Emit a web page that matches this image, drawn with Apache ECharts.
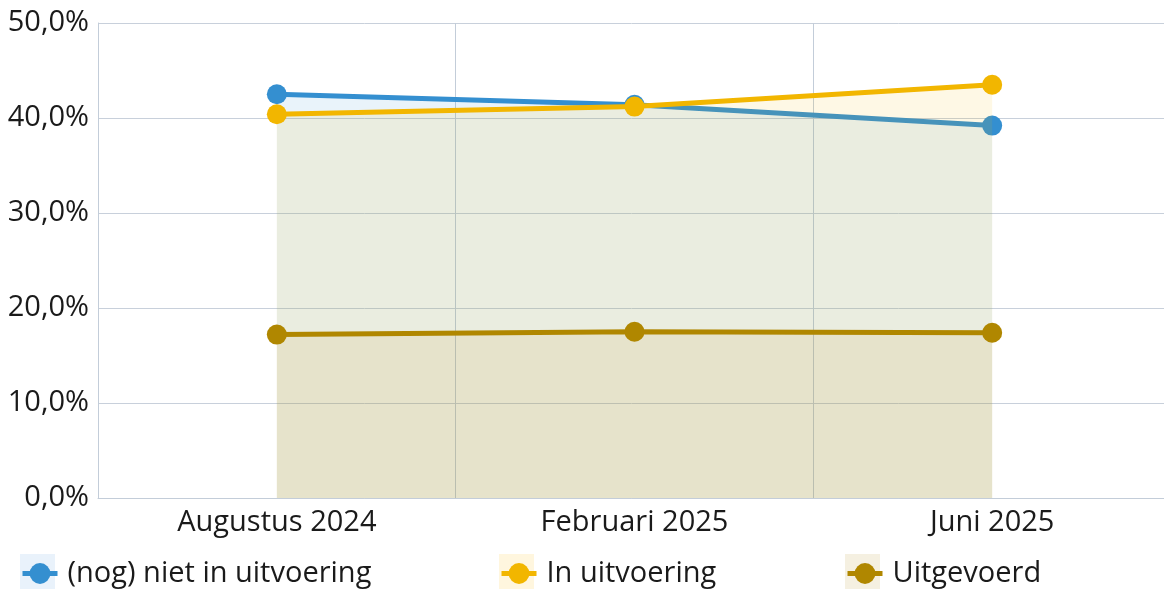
<!DOCTYPE html>
<html>
<head>
<meta charset="utf-8">
<script src="https://cdn.jsdelivr.net/npm/echarts@6/dist/echarts.min.js"></script>
<style>
  html, body { margin: 0; padding: 0; background: #fff; }
  #chart { width: 1164px; height: 589px; }
</style>
</head>
<body>
<div id="chart"></div>
<script>
// data
var categories = ['Augustus 2024', 'Februari 2025', 'Juni 2025'];
var nietInUitvoering = [42.5, 41.4, 39.2];
var inUitvoering = [40.4, 41.2, 43.5];
var uitgevoerd = [17.2, 17.5, 17.4];
var seriesNames = ['(nog) niet in uitvoering', 'In uitvoering', 'Uitgevoerd'];
var yTicks = [0, 10, 20, 30, 40, 50];

var lineColors = ['#348fd0', '#f2b600', '#b08700'];
var areaColors = ['rgba(52,143,208,0.11)', 'rgba(245,184,0,0.10)', 'rgba(200,140,20,0.10)'];
var legendBg = ['#e9f2fb', '#fff6de', '#f5f0e1'];
var legendLeft = [20, 499, 845];
var fontFam = '"Open Sans", "Noto Sans", sans-serif';

function pct(v) {
  return v.toFixed(1).replace('.', ',') + '%';
}

function makeSeries(name, data, i) {
  return {
    name: name,
    type: 'line',
    data: data,
    symbol: 'circle',
    symbolSize: 20,
    lineStyle: { width: 5, color: lineColors[i] },
    itemStyle: { color: lineColors[i] },
    areaStyle: { color: areaColors[i], opacity: 1, origin: 'start' },
    z: 2 + i
  };
}

function makeLegend(i) {
  return {
    data: [seriesNames[i]],
    left: legendLeft[i],
    top: 559,
    padding: 0,
    itemWidth: 35,
    itemHeight: 26,
    lineStyle: { width: 5 },
    textStyle: { fontSize: 29, color: '#1a1a1a', fontFamily: fontFam, padding: [0, 0, 0, 5] }
  };
}

var myChart = echarts.init(document.getElementById('chart'));

var option = {
  animation: false,
  textStyle: { fontFamily: fontFam },
  grid: {
    left: 98,
    top: 23,
    width: 1073,
    height: 475,
    outerBoundsMode: 'none'
  },
  legend: [makeLegend(0), makeLegend(1), makeLegend(2)],
  graphic: [0, 1, 2].map(function (i) {
    return {
      type: 'rect',
      z: 0,
      left: legendLeft[i],
      top: 554,
      shape: { width: 35, height: 35 },
      style: { fill: legendBg[i] }
    };
  }),
  xAxis: {
    type: 'category',
    data: categories,
    boundaryGap: true,
    axisLine: { lineStyle: { color: '#c3cdd9', width: 1 } },
    axisTick: { show: false },
    axisLabel: { fontSize: 29, color: '#1a1a1a', margin: 10 },
    splitLine: { show: true, lineStyle: { color: '#c3cdd9', width: 1 } }
  },
  yAxis: {
    type: 'value',
    min: yTicks[0],
    max: yTicks[yTicks.length - 1],
    interval: 10,
    axisLine: { show: true, lineStyle: { color: '#c3cdd9', width: 1 } },
    axisTick: { show: false },
    axisLabel: { fontSize: 29, color: '#1a1a1a', margin: 9, formatter: function (v) { return pct(v); } },
    splitLine: { lineStyle: { color: '#c8d0db', width: 1 } }
  },
  series: [
    makeSeries(seriesNames[0], nietInUitvoering, 0),
    makeSeries(seriesNames[1], inUitvoering, 1),
    makeSeries(seriesNames[2], uitgevoerd, 2)
  ]
};

myChart.setOption(option);
</script>
</body>
</html>
